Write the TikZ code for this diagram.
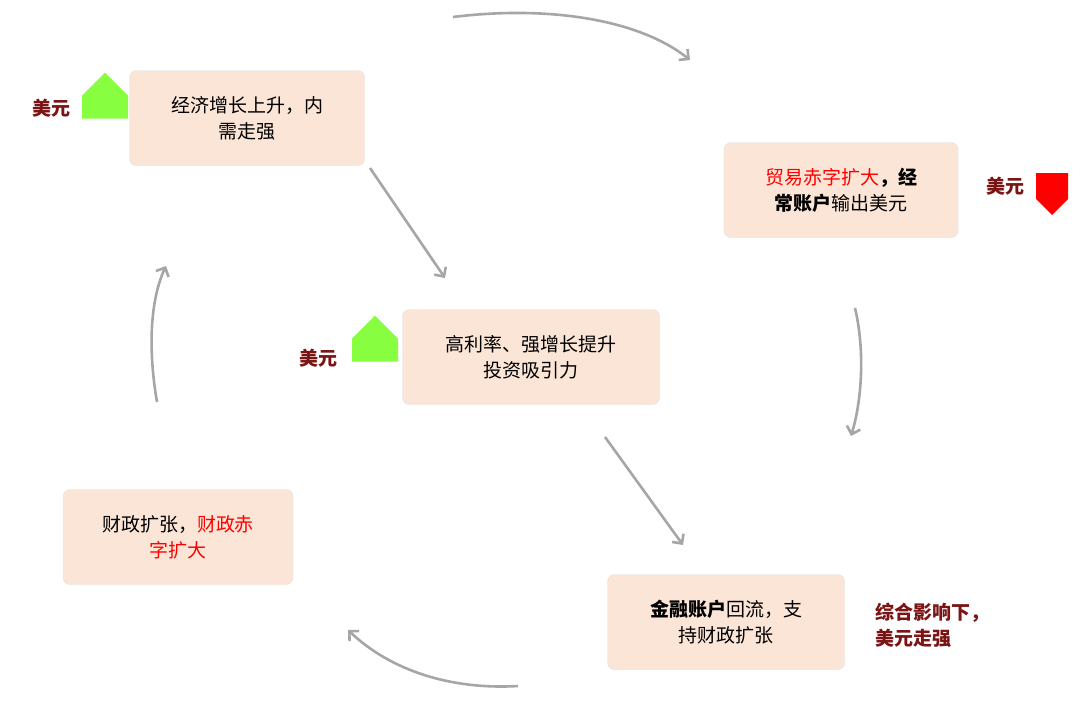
\documentclass[tikz,border=0pt]{standalone}
\usepackage{fontspec}
\setmainfont{Noto Sans CJK SC}
\usetikzlibrary{arrows.meta,shapes.arrows}
\definecolor{boxfill}{HTML}{FBE5D6}
\definecolor{usdred}{HTML}{7B1414}
\definecolor{flow}{HTML}{A6A6A6}
\begin{document}
\begin{tikzpicture}[x=1pt,y=-1pt,
    box/.style={draw=black!12, fill=boxfill, rounded corners=7pt, minimum width=235pt,
        minimum height=95pt, align=center, font=\fontsize{19}{26}\selectfont},
    usd/.style={text=usdred, font=\fontsize{19}{26}\selectfont\bfseries\itshape},
    flowline/.style={draw=flow, line width=2.6pt, -{Straight Barb[length=7pt,width=14pt]}},
    up/.style={single arrow, shape border rotate=90, fill=green!60!lime!80!black!70, draw=none,
        minimum width=46pt, single arrow head extend=0pt, single arrow tip angle=90, minimum height=46pt, inner sep=0pt}]
    \useasboundingbox (0,0) rectangle (1080,705);

    % Boxes
    \node[box] (growth) at (247,118) {经济增长上升，内\\需走强};
    \node[box, minimum width=234pt] (trade) at (841,190) {\textcolor{red}{贸易赤字扩大}\textbf{，经}\\\textbf{常账户}输出美元};
    \node[box, minimum width=257pt] (rate) at (531,357) {高利率、强增长提升\\投资吸引力};
    \node[box, minimum width=230pt] (fiscal) at (178,537) {财政扩张，\textcolor{red}{财政赤}\\\textcolor{red}{字扩大}};
    \node[box, minimum width=237pt] (finance) at (726,622) {\textbf{金融账户}回流，支\\持财政扩张};

    % Dollar markers
    \node[usd] (usdA) at (51,108) {美元};
    \node[up, fill=lime!50!green!75] (upA) at (105,107) {};
    \node[usd] (usdB) at (318,358) {美元};
    \node[up, fill=lime!50!green!75] (upB) at (375,350) {};
    \node[usd] (usdC) at (1005,186) {美元};
    \node[single arrow, shape border rotate=270, fill=red, minimum width=32pt, minimum height=42pt,
        single arrow head extend=0pt, single arrow tip angle=90, inner sep=0pt] (downC) at (1052,186) {};
    \node[usd, align=left] (total) at (932,625) {综合影响下，\\美元走强};

    % Flow
    \coordinate (t1) at (453,17);
    \coordinate (t2) at (690,60);
    \draw[flowline] (t1) .. controls (550,5) and (640,20) .. (t2);
    \coordinate (r1) at (855,308);
    \coordinate (r2) at (851,436);
    \draw[flowline] (r1) .. controls (865,350) and (862,400) .. (r2);
    \draw[flowline] (370,168) -- (445,278);
    \draw[flowline] (605,437) -- (683,545);
    \coordinate (b1) at (518,686);
    \coordinate (b2) at (348,630);
    \draw[flowline] (b1) .. controls (450,690) and (390,670) .. (b2);
    \coordinate (l1) at (157,402);
    \coordinate (l2) at (166,266);
    \draw[flowline] (l1) .. controls (148,350) and (150,300) .. (l2);
\end{tikzpicture}
\end{document}
